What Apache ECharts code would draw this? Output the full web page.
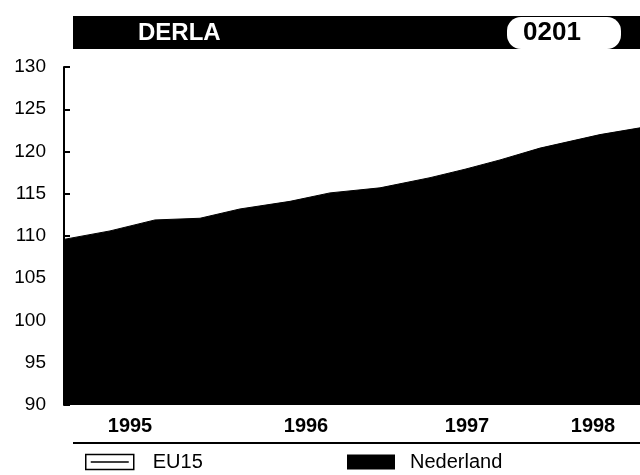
<!DOCTYPE html>
<html>
<head>
    <meta charset="UTF-8">
    <title>Nederland 0201</title>
    <script src="https://cdn.jsdelivr.net/npm/echarts@6/dist/echarts.min.js"></script>
    <style>
        body { margin: 0; background: #fff; }
        #main { width: 640px; height: 475px; }
    </style>
</head>
<body>
    <div id="main"></div>

    <script type="text/javascript">
        // x is a position along the time axis (0 = left edge of the plot)
        var nedX = [0, 46, 91, 136, 176, 226, 266, 316, 366, 401, 436, 476, 536, 576];
        var nedY = [109.6, 110.6, 111.9, 112.1, 113.2, 114.1, 115.1, 115.7, 116.9, 117.9, 119.0, 120.4, 122.0, 122.8];
        // EU15 is in the legend but its area is hidden behind Nederland
        var eu15 = [];

        var yearLabels = ['1995', '1996', '1997', '1998'];
        var yearPos = [66, 242, 403, 529];

        var nedData = nedX.map(function (x, i) { return [x, nedY[i]]; });

        var myChart = echarts.init(document.getElementById('main'));

        var option = {
            animation: false,
            backgroundColor: '#fff',
            grid: {
                left: 64,
                right: 0,
                top: 67,
                bottom: 70
            },
            legend: [
                {
                    data: ['EU15'],
                    left: 85, top: 452,
                    padding: 0,
                    itemWidth: 48, itemHeight: 15,
                    icon: 'path://M0,0H48V15H0Z M5,7.5L43,7.5',
                    itemStyle: { color: '#fff', borderColor: '#000', borderWidth: 1.5 },
                    textStyle: { fontFamily: 'Liberation Sans', fontSize: 20, color: '#000', padding: [0, 0, 0, 14] }
                },
                {
                    data: ['Nederland'],
                    left: 347, top: 452,
                    padding: 0,
                    itemWidth: 48, itemHeight: 15,
                    icon: 'rect',
                    textStyle: { fontFamily: 'Liberation Sans', fontSize: 20, color: '#000', padding: [0, 0, 0, 10] }
                }
            ],
            xAxis: {
                type: 'value',
                min: 0,
                max: 576,
                axisLine: { show: false },
                axisTick: { show: false },
                splitLine: { show: false },
                axisLabel: {
                    customValues: yearPos,
                    margin: 11,
                    fontFamily: 'Liberation Sans',
                    fontWeight: 'bold',
                    fontSize: 20,
                    color: '#000',
                    formatter: function (v) {
                        return yearLabels[yearPos.indexOf(v)];
                    }
                }
            },
            yAxis: {
                type: 'value',
                min: 90,
                max: 130,
                interval: 5,
                axisLine: { show: true, lineStyle: { color: '#000', width: 2 } },
                axisTick: { show: true, inside: true, length: 6, lineStyle: { color: '#000', width: 2 } },
                splitLine: { show: false },
                axisLabel: {
                    margin: 18,
                    fontFamily: 'Liberation Sans',
                    fontSize: 19,
                    color: '#000'
                }
            },
            graphic: [
                { type: 'rect', shape: { x: 73, y: 16, width: 567, height: 33 }, style: { fill: '#000' } },
                { type: 'text', left: 138, top: 21, style: { text: 'DERLA', fill: '#fff', font: 'bold 24px "Liberation Sans"' } },
                { type: 'rect', shape: { x: 507, y: 17, width: 114, height: 32, r: 14 }, style: { fill: '#fff' } },
                { type: 'text', left: 523, top: 20, style: { text: '0201', fill: '#000', font: 'bold 26px "Liberation Sans"' } },
                { type: 'line', shape: { x1: 73, y1: 443, x2: 640, y2: 443 }, style: { stroke: '#000', lineWidth: 2 } }
            ],
            series: [
                {
                    name: 'EU15',
                    type: 'line',
                    symbol: 'none',
                    data: eu15,
                    itemStyle: { color: '#fff', borderColor: '#000' },
                    lineStyle: { color: '#000', width: 1 },
                    areaStyle: { color: '#fff', opacity: 1 }
                },
                {
                    name: 'Nederland',
                    type: 'line',
                    symbol: 'none',
                    data: nedData,
                    itemStyle: { color: '#000' },
                    lineStyle: { color: '#000', width: 1 },
                    areaStyle: { color: '#000', opacity: 1 },
                    z: 3
                }
            ]
        };

        myChart.setOption(option);
    </script>
</body>
</html>
